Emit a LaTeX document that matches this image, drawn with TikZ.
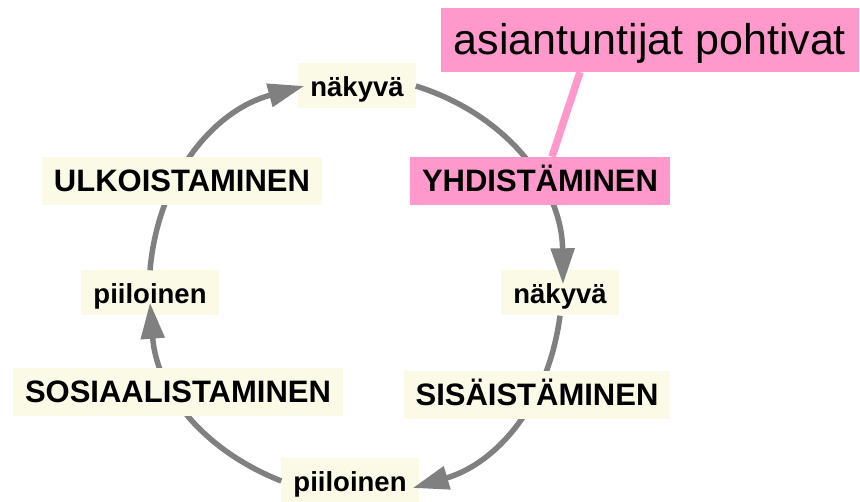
\documentclass[tikz,border=0pt]{standalone}
\usepackage{fontspec}
\setmainfont{Liberation Sans}
\usepackage{xcolor}
\usepackage{tikz}
\usetikzlibrary{arrows.meta}

\definecolor{labelfill}{RGB}{250,250,230}
\definecolor{callpink}{RGB}{255,153,204}
\definecolor{ringgray}{RGB}{128,128,128}

\begin{document}
\begin{tikzpicture}[x=1pt, y=1pt,
        statebox/.style={fill=labelfill, font=\bfseries\fontsize{27.5}{33}\selectfont,
            inner xsep=12pt, inner ysep=0pt, text height=22pt, text depth=0pt, minimum height=45pt},
        phasebox/.style={fill=labelfill, font=\bfseries\fontsize{31}{37}\selectfont,
            inner xsep=12pt, inner ysep=0pt, text height=22pt, text depth=0pt, minimum height=48pt},
        flow/.style={draw=ringgray, line width=5.5pt, -{Triangle[length=36pt, width=23pt]}}]
        \useasboundingbox (0,0) rectangle (860,502);

        \node[statebox] (topvis) at (357,416) {näkyvä};
        \node[statebox] (rightvis) at (560,209) {näkyvä};
        \node[statebox] (lefthid) at (150,209) {piiloinen};
        \node[statebox] (bothid) at (350,21) {piiloinen};

        \draw[flow] (bothid.west) to[bend left=32] ([yshift=13pt]lefthid.south);
        \draw[flow] (lefthid.north) to[bend left=35] ([xshift=6pt]topvis.west);
        \draw[flow] (topvis.east) to[bend left=36] ([xshift=3pt, yshift=-14pt]rightvis.north);
        \draw[flow] (rightvis.south) to[bend left=33] ([xshift=-6pt, yshift=-7pt]bothid.east);

        \node[phasebox] (ulko) at (182,321) {ULKOISTAMINEN};
        \node[phasebox, fill=callpink] (yhd) at (540,321) {YHDISTÄMINEN};
        \node[phasebox] (sos) at (178,110) {SOSIAALISTAMINEN};
        \node[phasebox] (sis) at (537,107) {SISÄISTÄMINEN};

        \node[fill=callpink, font=\fontsize{43}{50}\selectfont, inner xsep=13pt, inner ysep=0pt,
            text height=30pt, text depth=0pt, minimum height=64pt] (experts) at (650,462) {asiantuntijat pohtivat};
        \draw[callpink, line width=7.5pt] ([xshift=-70pt]experts.south) -- ([xshift=12pt]yhd.north);
    \end{tikzpicture}
\end{document}
